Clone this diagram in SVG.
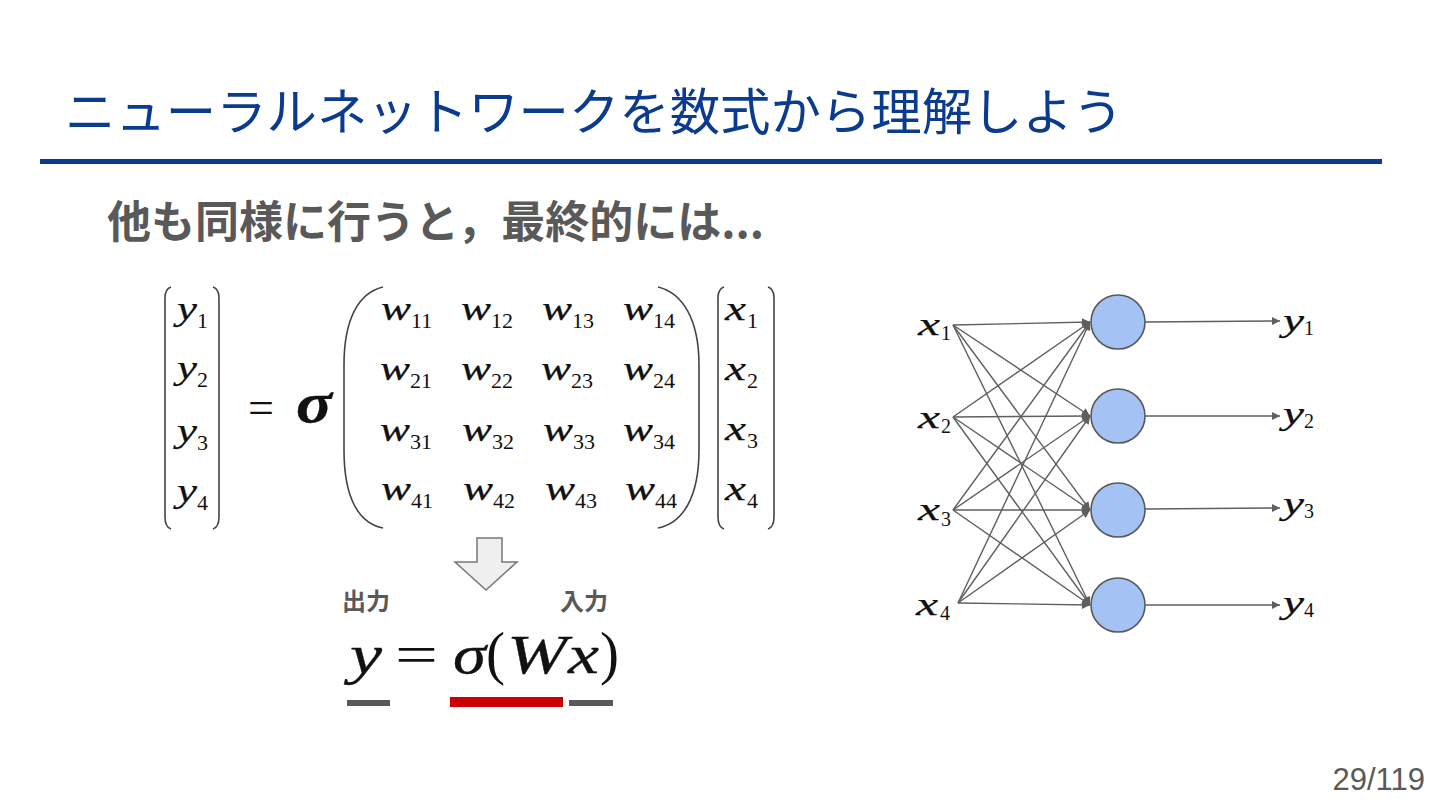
<svg xmlns="http://www.w3.org/2000/svg" width="1440" height="810" viewBox="0 0 1440 810">
<style>
.title{font-family:"Noto Sans CJK JP","Noto Sans",sans-serif;font-size:50.4px;fill:#0b3b8f}
.sub{font-family:"Noto Sans CJK JP","Noto Sans",sans-serif;font-size:44px;font-weight:bold;fill:#595959}
.lbl{font-family:"Noto Sans CJK JP","Noto Sans",sans-serif;font-size:24px;font-weight:bold;fill:#595959}
.mi{font-family:"Liberation Serif","Times New Roman",serif;font-style:italic;font-size:33px;fill:#111;stroke:#111;stroke-width:0.25}
.mn{font-family:"Liberation Serif","Times New Roman",serif;font-size:22px;fill:#111}
.ni{font-family:"Liberation Serif","Times New Roman",serif;font-style:italic;font-size:31px;fill:#111;stroke:#111;stroke-width:0.25}
.nn{font-family:"Liberation Serif","Times New Roman",serif;font-size:20px;fill:#111}
.ei{font-family:"Liberation Serif","Times New Roman",serif;font-style:italic;font-size:54px;fill:#111;stroke:#111;stroke-width:0.3}
.eu{font-family:"Liberation Serif","Times New Roman",serif;font-size:54px;fill:#111}
.br{fill:none;stroke:#444;stroke-width:1.6}
.conn line{stroke:#5f5f5f;stroke-width:1.4}
.neuron{fill:#a4c2f4;stroke:#595959;stroke-width:1.6}
.page{font-family:"Liberation Sans",Arial,sans-serif;font-size:31px;fill:#595959}
</style>
<defs>
<marker id="ah" viewBox="0 0 10 10" refX="10" refY="5" markerWidth="10" markerHeight="8" markerUnits="userSpaceOnUse" orient="auto">
<path d="M0,0 L10,5 L0,10 z" fill="#5f5f5f"/>
</marker>
</defs>
<rect width="1440" height="810" fill="#ffffff"/>

<g id="title">
<text class="title" x="65" y="130">ニューラルネットワークを数式から理解しよう</text>
<rect x="40" y="159" width="1342" height="5" fill="#0b3b8f"/>
</g>

<g id="subtitle">
<text class="sub" x="107" y="238">他も同様に行うと，最終的には...</text>
</g>

<g id="matrix-equation">
<g id="y-vector">
<path class="br" d="M171,287 Q165,289 165,298 L165,517 Q165,527 171,529"/>
<path class="br" d="M213,287 Q219,289 219,298 L219,517 Q219,527 213,529"/>
<text class="mi" x="177" y="320" textLength="20" lengthAdjust="spacingAndGlyphs">y</text><text class="mn" x="197" y="328">1</text>
<text class="mi" x="177" y="379" textLength="20" lengthAdjust="spacingAndGlyphs">y</text><text class="mn" x="197" y="387">2</text>
<text class="mi" x="177" y="442" textLength="20" lengthAdjust="spacingAndGlyphs">y</text><text class="mn" x="197" y="450">3</text>
<text class="mi" x="177" y="502" textLength="20" lengthAdjust="spacingAndGlyphs">y</text><text class="mn" x="197" y="510">4</text>
</g>
<text class="eu" x="248" y="423" style="font-size:46px" textLength="26" lengthAdjust="spacingAndGlyphs">=</text>
<text class="ei" x="296" y="422" style="font-size:56px;font-weight:bold" textLength="36" lengthAdjust="spacingAndGlyphs">σ</text>
<g id="w-matrix">
<path class="br" d="M383,287 C358,293 344,320 344,365 L344,450 C344,497 358,523 383,528"/>
<path class="br" d="M658,287 C683,293 699,320 699,365 L699,450 C699,497 683,523 658,528"/>
<text class="mi" x="381" y="320" textLength="30" lengthAdjust="spacingAndGlyphs">w</text><text class="mn" x="411" y="328">11</text>
<text class="mi" x="461" y="320" textLength="30" lengthAdjust="spacingAndGlyphs">w</text><text class="mn" x="491" y="328">12</text>
<text class="mi" x="542" y="320" textLength="30" lengthAdjust="spacingAndGlyphs">w</text><text class="mn" x="572" y="328">13</text>
<text class="mi" x="623" y="320" textLength="30" lengthAdjust="spacingAndGlyphs">w</text><text class="mn" x="653" y="328">14</text>
<text class="mi" x="380" y="380" textLength="30" lengthAdjust="spacingAndGlyphs">w</text><text class="mn" x="410" y="388">21</text>
<text class="mi" x="461" y="380" textLength="30" lengthAdjust="spacingAndGlyphs">w</text><text class="mn" x="491" y="388">22</text>
<text class="mi" x="541" y="380" textLength="30" lengthAdjust="spacingAndGlyphs">w</text><text class="mn" x="571" y="388">23</text>
<text class="mi" x="623" y="380" textLength="30" lengthAdjust="spacingAndGlyphs">w</text><text class="mn" x="653" y="388">24</text>
<text class="mi" x="380" y="441" textLength="30" lengthAdjust="spacingAndGlyphs">w</text><text class="mn" x="410" y="449">31</text>
<text class="mi" x="462" y="441" textLength="30" lengthAdjust="spacingAndGlyphs">w</text><text class="mn" x="492" y="449">32</text>
<text class="mi" x="543" y="441" textLength="30" lengthAdjust="spacingAndGlyphs">w</text><text class="mn" x="573" y="449">33</text>
<text class="mi" x="623" y="441" textLength="30" lengthAdjust="spacingAndGlyphs">w</text><text class="mn" x="653" y="449">34</text>
<text class="mi" x="381" y="500" textLength="30" lengthAdjust="spacingAndGlyphs">w</text><text class="mn" x="411" y="508">41</text>
<text class="mi" x="463" y="500" textLength="30" lengthAdjust="spacingAndGlyphs">w</text><text class="mn" x="493" y="508">42</text>
<text class="mi" x="545" y="500" textLength="30" lengthAdjust="spacingAndGlyphs">w</text><text class="mn" x="575" y="508">43</text>
<text class="mi" x="625" y="500" textLength="30" lengthAdjust="spacingAndGlyphs">w</text><text class="mn" x="655" y="508">44</text>
</g>
<g id="x-vector">
<path class="br" d="M724,287 Q718,289 718,298 L718,517 Q718,527 724,529"/>
<path class="br" d="M768,287 Q774,289 774,298 L774,517 Q774,527 768,529"/>
<text class="mi" x="725" y="320" textLength="21" lengthAdjust="spacingAndGlyphs">x</text><text class="mn" x="747" y="328">1</text>
<text class="mi" x="725" y="380" textLength="21" lengthAdjust="spacingAndGlyphs">x</text><text class="mn" x="747" y="388">2</text>
<text class="mi" x="725" y="440" textLength="21" lengthAdjust="spacingAndGlyphs">x</text><text class="mn" x="747" y="448">3</text>
<text class="mi" x="725" y="500" textLength="21" lengthAdjust="spacingAndGlyphs">x</text><text class="mn" x="747" y="508">4</text>
</g>
</g>

<g id="down-arrow">
<path d="M477,538 L502,538 L502,562 L517,562 L486,590 L455,562 L477,562 Z" fill="#efefef" stroke="#777" stroke-width="1.5" stroke-linejoin="miter"/>
</g>

<g id="compact-equation">
<text class="lbl" x="342" y="610">出力</text>
<text class="lbl" x="560" y="610">入力</text>
<text class="ei" x="350" y="673" textLength="32" lengthAdjust="spacingAndGlyphs">y</text>
<text class="eu" x="395" y="673" textLength="43" lengthAdjust="spacingAndGlyphs">=</text>
<text class="ei" x="453" y="673" textLength="33" lengthAdjust="spacingAndGlyphs">σ</text>
<text class="eu" x="486" y="673" style="font-size:60px" textLength="19" lengthAdjust="spacingAndGlyphs">(</text>
<text class="ei" x="507" y="673" textLength="60" lengthAdjust="spacingAndGlyphs">W</text>
<text class="ei" x="568" y="673" textLength="31" lengthAdjust="spacingAndGlyphs">x</text>
<text class="eu" x="600" y="673" style="font-size:60px" textLength="19" lengthAdjust="spacingAndGlyphs">)</text>
<rect x="347" y="700" width="43" height="6" fill="#595959"/>
<rect x="450" y="697" width="113" height="10" fill="#cc0000"/>
<rect x="569" y="700" width="44" height="6" fill="#595959"/>
</g>

<g id="connectors" class="conn">
<line x1="953" y1="325" x2="1090" y2="322" marker-end="url(#ah)"/>
<line x1="953" y1="325" x2="1090" y2="416" marker-end="url(#ah)"/>
<line x1="953" y1="325" x2="1090" y2="510" marker-end="url(#ah)"/>
<line x1="953" y1="325" x2="1090" y2="605" marker-end="url(#ah)"/>
<line x1="953" y1="417" x2="1090" y2="322" marker-end="url(#ah)"/>
<line x1="953" y1="417" x2="1090" y2="416" marker-end="url(#ah)"/>
<line x1="953" y1="417" x2="1090" y2="510" marker-end="url(#ah)"/>
<line x1="953" y1="417" x2="1090" y2="605" marker-end="url(#ah)"/>
<line x1="953" y1="510" x2="1090" y2="322" marker-end="url(#ah)"/>
<line x1="953" y1="510" x2="1090" y2="416" marker-end="url(#ah)"/>
<line x1="953" y1="510" x2="1090" y2="510" marker-end="url(#ah)"/>
<line x1="953" y1="510" x2="1090" y2="605" marker-end="url(#ah)"/>
<line x1="958" y1="603" x2="1090" y2="322" marker-end="url(#ah)"/>
<line x1="958" y1="603" x2="1090" y2="416" marker-end="url(#ah)"/>
<line x1="958" y1="603" x2="1090" y2="510" marker-end="url(#ah)"/>
<line x1="958" y1="603" x2="1090" y2="605" marker-end="url(#ah)"/>
<line x1="1145" y1="322" x2="1280" y2="321" marker-end="url(#ah)"/>
<line x1="1145" y1="416" x2="1280" y2="416" marker-end="url(#ah)"/>
<line x1="1145" y1="509" x2="1280" y2="508" marker-end="url(#ah)"/>
<line x1="1145" y1="605" x2="1280" y2="605" marker-end="url(#ah)"/>
</g>

<g id="input-x1"><text class="ni" x="918" y="335" textLength="22" lengthAdjust="spacingAndGlyphs">x</text><text class="nn" x="941" y="340">1</text></g>
<g id="input-x2"><text class="ni" x="918" y="428" textLength="22" lengthAdjust="spacingAndGlyphs">x</text><text class="nn" x="941" y="433">2</text></g>
<g id="input-x3"><text class="ni" x="918" y="520" textLength="22" lengthAdjust="spacingAndGlyphs">x</text><text class="nn" x="941" y="526">3</text></g>
<g id="input-x4"><text class="ni" x="916" y="615" textLength="22" lengthAdjust="spacingAndGlyphs">x</text><text class="nn" x="940" y="620">4</text></g>

<g id="neuron-1"><circle class="neuron" cx="1118" cy="322" r="27"/></g>
<g id="neuron-2"><circle class="neuron" cx="1118" cy="416" r="27"/></g>
<g id="neuron-3"><circle class="neuron" cx="1118" cy="510" r="27"/></g>
<g id="neuron-4"><circle class="neuron" cx="1118" cy="605" r="27"/></g>

<g id="output-y1"><text class="ni" x="1283" y="331" textLength="21" lengthAdjust="spacingAndGlyphs">y</text><text class="nn" x="1304" y="335">1</text></g>
<g id="output-y2"><text class="ni" x="1283" y="424" textLength="21" lengthAdjust="spacingAndGlyphs">y</text><text class="nn" x="1304" y="428">2</text></g>
<g id="output-y3"><text class="ni" x="1283" y="514" textLength="21" lengthAdjust="spacingAndGlyphs">y</text><text class="nn" x="1304" y="518">3</text></g>
<g id="output-y4"><text class="ni" x="1283" y="613" textLength="21" lengthAdjust="spacingAndGlyphs">y</text><text class="nn" x="1304" y="617">4</text></g>

<g id="page-number">
<text class="page" x="1425" y="790" text-anchor="end">29/119</text>
</g>
</svg>
